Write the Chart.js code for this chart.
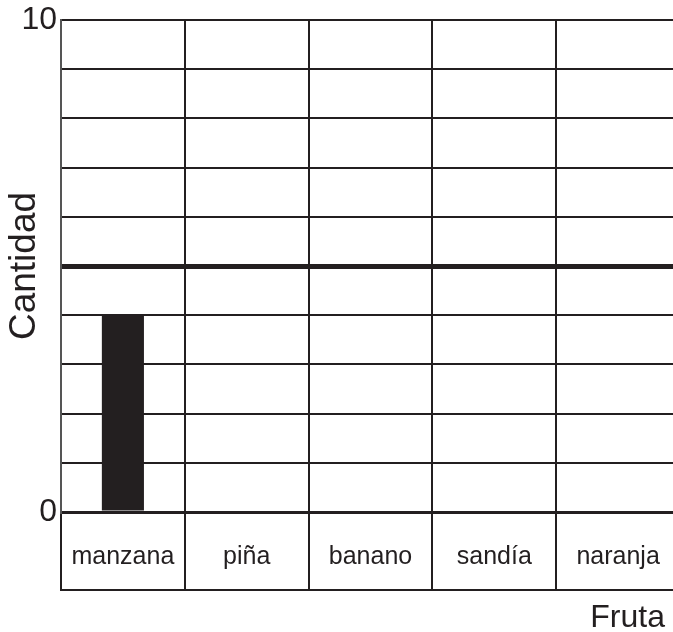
<!DOCTYPE html>
<html>
<head>
<meta charset="utf-8">
<script src="https://cdn.jsdelivr.net/npm/chart.js@4/dist/chart.umd.min.js"></script>
<style>
  html, body { margin: 0; padding: 0; background: #ffffff; overflow: hidden; }
  #wrap { width: 673px; height: 632px; overflow: hidden; }
  canvas { display: block; }
</style>
</head>
<body>
<div id="wrap"><canvas id="c" width="680" height="632"></canvas></div>
<script>
// Fruit counts
const categories = ['manzana', 'piña', 'banano', 'sandía', 'naranja'];
const cantidad = [4, 0, 0, 0, 0];
const yMin = 0;
const yMax = 10;
const yStep = 1;
const yLabelled = [0, 10];     // only the ends of the axis carry a number
const referenceLevel = 5;      // drawn as a heavy horizontal rule

const INK = '#231f20';
const FONT = '"Liberation Sans", Arial, Helvetica, sans-serif';
const LABEL_BOX = 78;          // depth of the boxed category-label row

// Closes the label boxes underneath the axis and writes the x-axis title
const labelBoxes = {
  id: 'labelBoxes',
  afterDraw(chart) {
    const { ctx, chartArea } = chart;
    const y = chartArea.bottom + LABEL_BOX;
    ctx.save();
    ctx.strokeStyle = INK;
    ctx.lineWidth = 2;
    ctx.beginPath();
    ctx.moveTo(chartArea.left - 1, y);
    ctx.lineTo(chartArea.right, y);
    ctx.stroke();
    ctx.fillStyle = INK;
    ctx.font = '32px ' + FONT;
    ctx.textAlign = 'right';
    ctx.textBaseline = 'alphabetic';
    ctx.fillText('Fruta', chart.width - 15, chart.height - 5);
    ctx.restore();
  }
};

new Chart(document.getElementById('c'), {
  type: 'bar',
  data: {
    labels: categories,
    datasets: [{
      data: cantidad,
      backgroundColor: INK,
      borderWidth: 0,
      barPercentage: 0.34,
      categoryPercentage: 1
    }]
  },
  options: {
    responsive: false,
    animation: false,
    devicePixelRatio: 1,
    layout: { padding: { top: 17, left: 0, right: 0, bottom: 0 } },
    plugins: {
      legend: { display: false },
      tooltip: { enabled: false }
    },
    scales: {
      x: {
        offset: true,
        grid: {
          offset: true,
          color: INK,
          lineWidth: 2,
          drawTicks: true,
          tickLength: LABEL_BOX,
          tickColor: INK,
          tickWidth: 2
        },
        border: { display: true, color: INK, width: 3 },
        ticks: {
          color: INK,
          font: { family: FONT, size: 25, lineHeight: 1.2 },
          padding: -48,
          maxRotation: 0,
          autoSkip: false
        },
        afterFit(scale) { scale.height = 120; }
      },
      y: {
        min: yMin,
        max: yMax,
        grid: {
          color: INK,
          lineWidth: (c) => c.tick && c.tick.value === referenceLevel ? 5 : (c.tick && c.tick.value === yMin ? 3 : 2),
          drawTicks: false
        },
        border: { display: true, color: '#555555', width: 2 },
        ticks: {
          stepSize: yStep,
          color: INK,
          padding: 4,
          font: { family: FONT, size: 32, lineHeight: 1 },
          callback: (v) => yLabelled.includes(v) ? String(v) : ''
        },
        title: {
          display: true,
          text: 'Cantidad',
          color: INK,
          font: { family: FONT, size: 37, lineHeight: 1.2 },
          padding: { top: 3, bottom: 0 }
        },
        afterFit(scale) { scale.width = 61; }
      }
    }
  },
  plugins: [labelBoxes]
});
</script>
</body>
</html>
